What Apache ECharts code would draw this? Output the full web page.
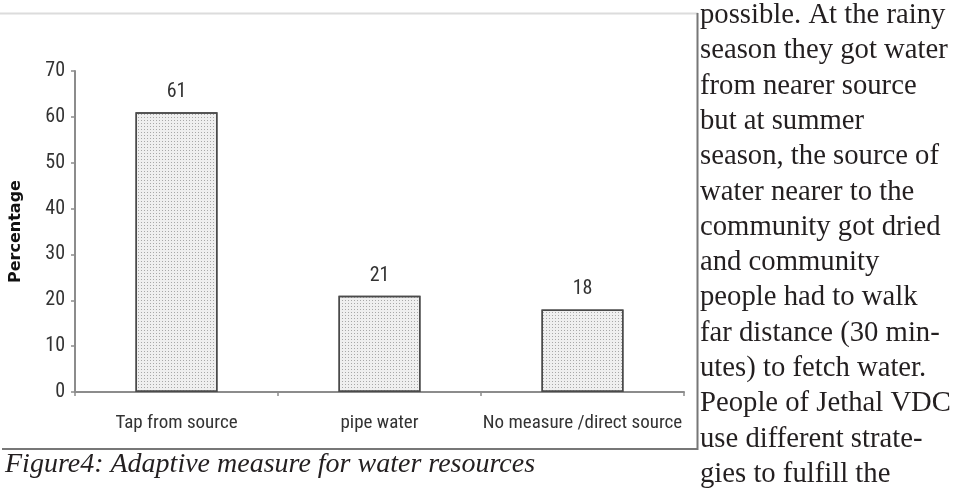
<!DOCTYPE html>
<html>
<head>
<meta charset="utf-8">
<script src="https://cdn.jsdelivr.net/npm/echarts@6/dist/echarts.min.js"></script>
<style>
html,body{margin:0;padding:0;background:#fff;}
#main{width:955px;height:491px;}
</style>
</head>
<body>
<div id="main"></div>
<script>
const categories = ['Tap from source', 'pipe water', 'No measure /direct source'];
const percentages = [61, 21, 18];
const yTicks = [0, 10, 20, 30, 40, 50, 60, 70];
const yAxisName = 'Percentage';
const caption = 'Figure4: Adaptive measure for water resources';
const bodyLines = [
  'possible. At the rainy',
  'season they got water',
  'from nearer source',
  'but at summer',
  'season, the source of',
  'water nearer to the',
  'community got dried',
  'and community',
  'people had to walk',
  'far distance (30 min-',
  'utes) to fetch water.',
  'People of Jethal VDC',
  'use different strate-',
  'gies to fulfill the'
];

const narrow = "'Liberation Sans Narrow', 'Arial Narrow', 'Roboto Condensed', 'Liberation Sans', sans-serif";
const serif = "'Liberation Serif', 'Times New Roman', serif";

const chart = echarts.init(document.getElementById('main'), null, {renderer: 'canvas'});

const graphics = [
  {type: 'line', shape: {x1: 0, y1: 13.5, x2: 698, y2: 13.5}, style: {stroke: '#dcdcdc', lineWidth: 2}, silent: true},
  {type: 'line', shape: {x1: 697.5, y1: 13, x2: 697.5, y2: 450}, style: {stroke: '#777', lineWidth: 2}, silent: true},
  {type: 'line', shape: {x1: 2, y1: 449, x2: 698, y2: 449}, style: {stroke: '#777', lineWidth: 2}, silent: true},
  {type: 'text', left: 5, top: 451, style: {text: caption, font: "italic 28px " + serif, fill: '#231f20'}, silent: true}
];
bodyLines.forEach(function (t, i) {
  graphics.push({
    type: 'text', left: 700, top: 1 + i * 35.3,
    style: {text: t, font: "28.7px " + serif, fill: '#231f20'}, silent: true
  });
});

chart.setOption({
  animation: false,
  backgroundColor: '#fff',
  grid: {left: 70, right: 271, top: 71, bottom: 99, containLabel: false},
  xAxis: {
    type: 'category',
    data: categories,
    axisLine: {lineStyle: {color: '#8c8c8c', width: 2}},
    axisTick: {show: true, length: 4, inside: false, lineStyle: {color: '#8c8c8c', width: 1.5}},
    axisLabel: {interval: 0, color: '#333', fontFamily: narrow, fontSize: 19, margin: 22}
  },
  yAxis: {
    type: 'value',
    min: yTicks[0], max: yTicks[yTicks.length - 1], interval: 10,
    name: yAxisName,
    nameLocation: 'middle',
    nameGap: 51,
    nameRotate: 90,
    nameTextStyle: {color: '#111', fontFamily: "'DejaVu Sans', sans-serif", fontWeight: 'bold', fontSize: 16},
    axisLine: {show: true, lineStyle: {color: '#8c8c8c', width: 2}},
    axisTick: {show: true, length: 4, lineStyle: {color: '#8c8c8c', width: 1.5}},
    splitLine: {show: false},
    axisLabel: {color: '#333', fontFamily: narrow, fontSize: 20, margin: 10}
  },
  series: [{
    type: 'bar',
    data: percentages,
    barWidth: 82,
    itemStyle: {
      color: '#efefef',
      borderColor: '#4a4a4a',
      borderWidth: 1.5,
      decal: {symbol: 'rect', symbolSize: 1, dashArrayX: [1, 2], dashArrayY: [1, 2], color: 'rgba(110,110,110,0.55)'}
    },
    label: {show: true, position: 'top', distance: 10, color: '#333', fontFamily: narrow, fontSize: 20}
  }],
  graphic: graphics
});
</script>
</body>
</html>
